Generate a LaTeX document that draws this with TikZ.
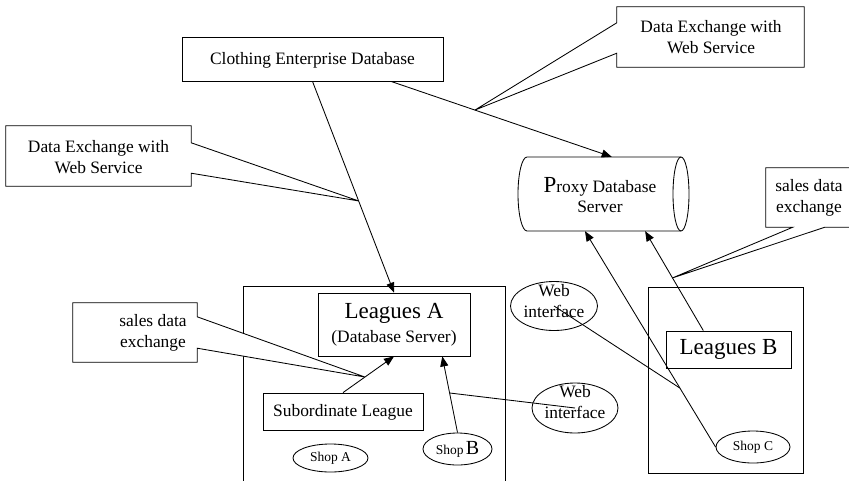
\documentclass[tikz,border=0pt]{standalone}
\usepackage{fontspec}
\setmainfont{Liberation Serif}
\usetikzlibrary{arrows.meta,calc,shapes.geometric}
\tikzset{
  ln/.style={line width=0.85pt, draw=black},
  arr/.style={ln, -{Triangle[length=10pt,width=8pt]}},
  boxn/.style={draw, line width=0.85pt, rectangle, inner sep=0pt},
  ghost/.style={rectangle, inner sep=0pt, draw=none},
  ell/.style={draw, line width=0.85pt, ellipse, inner sep=0pt},
  txt/.style={inner sep=0pt, align=center, font=\fontsize{17.4}{20.5}\selectfont},
  bigt/.style={inner sep=0pt, align=center, font=\fontsize{23}{25}\selectfont},
  smallt/.style={inner sep=0pt, font=\fontsize{13.5}{15}\selectfont},
  callout/.style={draw, line width=0.85pt, fill=white}
}
\begin{document}
\begin{tikzpicture}[x=1pt,y=-1pt]
\useasboundingbox (0,0) rectangle (849,480);
\clip (0,0) rectangle (849,480);
\fill[white] (0,0) rectangle (849,480);

% main boxes
\node[boxn, minimum width=261, minimum height=44] (ced) at (312.5,59) {};
\node[txt] at (312.5,60) {Clothing Enterprise Database};

\node[boxn, minimum width=262, minimum height=198] (outA) at (374,385) {};
\node[boxn, minimum width=152, minimum height=63] (la) at (394,324.5) {};
\node[bigt] at (394,313) {Leagues A};
\node[txt] at (394,338) {(Database Server)};

\node[boxn, minimum width=160, minimum height=37] (sub) at (343,411.5) {};
\node[txt] at (343,412) {Subordinate League};

\node[ell, minimum width=75, minimum height=28] (shopA) at (330.5,458) {};
\node[smallt] at (330.5,458) {Shop A};
\node[ell, minimum width=69, minimum height=32] (shopB) at (457.5,449) {};
\node[smallt] at (457.5,449.5) {Shop\,{\fontsize{20}{20}\selectfont B}};

\node[boxn, minimum width=155, minimum height=186] (outB) at (725.5,380) {};
\node[boxn, minimum width=125, minimum height=37] (lb) at (728.5,349.5) {};
\node[bigt] at (728.5,349.5) {Leagues B};
\node[ell, minimum width=74, minimum height=32] (shopC) at (753,447) {};
\node[smallt] at (753,447) {Shop C};

% proxy database server (horizontal cylinder)
\node[ghost, minimum width=171, minimum height=74] (px) at (603.5,194) {};
\draw[ln] (527,157) -- (681,157) (681,231) -- (527,231)
  arc[start angle=90, end angle=270, x radius=9, y radius=37];
\draw[ln] (681,194) ellipse [x radius=8, y radius=37];
\node[txt] at (600,195) {{\fontsize{23}{23}\selectfont P}roxy Database\\Server};

% web interface ellipses
\node[ell, minimum width=87, minimum height=49] (w1) at (554,306) {};
\node[txt, font=\fontsize{17.4}{21}\selectfont] at (554,301) {Web\\interface};
\node[ell, minimum width=86, minimum height=50] (w2) at (575,408) {};
\node[txt, font=\fontsize{17.4}{21}\selectfont] at (575,402) {Web\\interface};

% connectors
\draw[arr] (ced.south) -- (la.north);
\coordinate (t1) at ($(ced.south)!0.566!(la.north)$);
\coordinate (cedR) at ($(ced.south west)!0.8!(ced.south east)$);
\coordinate (pxT) at ($(px.north west)!0.548!(px.north east)$);
\draw[arr] (cedR) -- (pxT);
\coordinate (t2) at ($(cedR)!0.38!(pxT)$);

\coordinate (subT) at (343,393);
\draw[arr] (sub.north) -- (la.south);
\coordinate (t3) at ($(sub.north)!0.43!(la.south)$);

\coordinate (laB) at ($(la.south west)!0.816!(la.south east)$);
\draw[arr] (shopB.north) -- (laB);
\coordinate (t5) at ($(shopB.north)!0.52!(laB)$);
\draw[ln] (w2.center) -- (t5);

\coordinate (lbT) at ($(lb.north west)!0.3!(lb.north east)$);
\coordinate (pxB2) at ($(px.south west)!0.743!(px.south east)$);
\draw[arr] (lbT) -- (pxB2);
\coordinate (t4) at ($(lbT)!0.53!(pxB2)$);

\coordinate (pxB1) at ($(px.south west)!0.392!(px.south east)$);
\draw[arr] (shopC.west) -- (pxB1);
\coordinate (t6) at ($(shopC.west)!0.273!(pxB1)$);
\draw[ln] (w1.center) -- (t6);

% callouts
\node[ghost, minimum width=185, minimum height=60] (c1) at (98.5,156) {};
\draw[callout] (c1.north west) -- (c1.north east) -- ($(c1.north east)+(0,17)$) -- (t1)
  -- ($(c1.south east)+(0,-13)$) -- (c1.south east) -- (c1.south west) -- cycle;
\node[txt] at (98.5,157) {Data Exchange with\\Web Service};

\node[ghost, minimum width=187, minimum height=60] (c2) at (710.5,37) {};
\draw[callout] (c2.north west) -- (c2.north east) -- (c2.south east) -- (c2.south west)
  -- ($(c2.south west)+(0,-14)$) -- (t2) -- ($(c2.north west)+(0,16)$) -- cycle;
\node[txt] at (711,37) {Data Exchange with\\Web Service};

\node[ghost, minimum width=124, minimum height=59] (c3) at (135,332.5) {};
\draw[callout] (c3.north west) -- (c3.north east) -- ($(c3.north east)+(0,14)$) -- (t3)
  -- ($(c3.south east)+(0,-14)$) -- (c3.south east) -- (c3.south west) -- cycle;
\node[txt] at (153,333) {sales data\\exchange};

\node[ghost, minimum width=90, minimum height=59] (c4) at (811,197.5) {};
\draw[callout] (c4.north west) -- (c4.north east) -- (c4.south east)
  -- ($(c4.south west)+(59,0)$) -- (t4) -- ($(c4.south west)+(27,0)$) -- (c4.south west) -- cycle;
\node[txt] at (809,198) {sales data\\exchange};
\end{tikzpicture}
\end{document}
